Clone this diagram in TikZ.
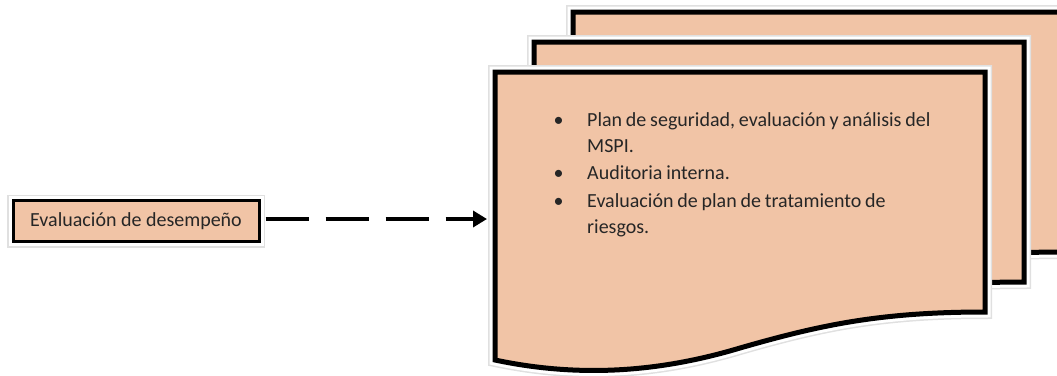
\documentclass[tikz,border=0pt]{standalone}
\usepackage{fontspec}
\setmainfont{Carlito}
\usetikzlibrary{arrows.meta}
\definecolor{peach}{HTML}{F1C4A6}
\definecolor{ink}{HTML}{262626}

\tikzset{
  glow/.style={preaction={draw=black!12, line width=#1+9pt},
               preaction={draw=white, line width=#1+6pt}},
  docpage/.style={draw=black, line width=5pt, fill=peach, glow=5pt},
  stagebox/.style={draw=black, line width=3pt, fill=peach, glow=3pt,
                   minimum width=246pt, minimum height=41pt, inner sep=0pt,
                   text=ink, font=\fontsize{20}{24}\selectfont},
  itemlist/.style={text width=395pt, inner sep=0pt, align=left, text=ink,
                   font=\fontsize{20}{26}\selectfont},
  flow/.style={line width=4.5pt, dash pattern=on 43pt off 17pt,
               -{Triangle[length=14pt, width=16pt]}}
}

\begin{document}
\begin{tikzpicture}[x=1pt, y=-1pt]
  \useasboundingbox (0,0) rectangle (1057,375);

  \foreach \dx/\dy in {78/-60, 39/-30, 0/0}
  {
    \begin{scope}[shift={(\dx,\dy)}]
      \draw[docpage] (495,72) -- (985,72) -- (985,312)
        .. controls (880,312) and (820,325) .. (740,348)
        .. controls (660,372) and (580,378) .. (495,360) -- cycle;
    \end{scope}
  }

  \node[stagebox] (desempeno) at (136,221) {Evaluación de desempeño};
  \coordinate (stack) at (487,219);

  \node[itemlist, anchor=north west] (plan) at (547,100)
  {\hyphenpenalty=10000 \spaceskip=3.8pt plus 1pt minus 0.5pt
   \begin{list}{\textbullet}{\setlength{\leftmargin}{40pt}\setlength{\labelwidth}{16pt}%
      \setlength{\labelsep}{23.5pt}\setlength{\itemsep}{1.5pt}\setlength{\parsep}{0pt}%
      \setlength{\topsep}{0pt}\setlength{\partopsep}{0pt}\raggedright}
   \item Plan de seguridad, evaluación y análisis del MSPI.
   \item Auditoria interna.
   \item Evaluación de plan de tratamiento de riesgos.
   \end{list}};

  \draw[flow, shorten <=5pt] (desempeno.east |- stack) -- (stack);
\end{tikzpicture}
\end{document}
